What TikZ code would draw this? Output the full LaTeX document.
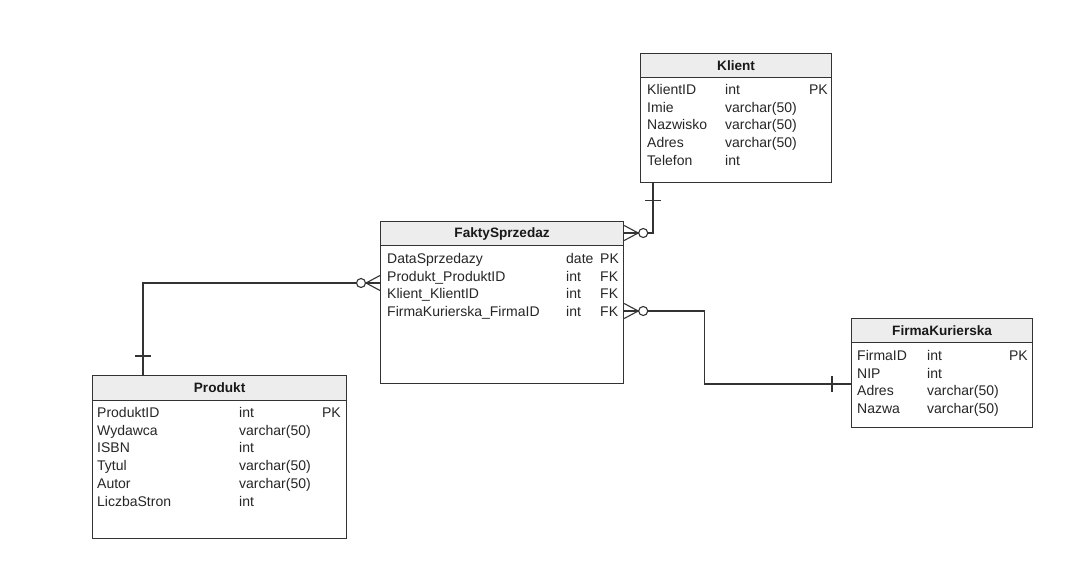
\documentclass[tikz,border=0pt]{standalone}
\usepackage{fontspec}
\setmainfont{Liberation Sans}
\usetikzlibrary{calc}
\begin{document}
\begin{tikzpicture}[x=1pt,y=-1pt,
  line/.style={draw=black!80, line width=1.1pt},
  entity/.style={draw=black!80, line width=1.2pt, anchor=north west, inner sep=0pt},
  header/.style={draw=black!80, line width=1.2pt, fill=black!7, anchor=north west, inner sep=0pt,
    minimum height=24pt, font=\bfseries\fontsize{13.6}{15}\selectfont, text=black!90},
  cell/.style={anchor=base west, inner sep=0pt, font=\fontsize{14}{15}\selectfont, text=black!85},
  keycell/.style={cell, anchor=base east},
  zeromany/.pic={
    \draw[line] (0,-7.5) -- (14,0) -- (0,7.5);
    \draw[line, fill=white] (19,0) circle[radius=4.5pt];
  },
  hbar/.pic={\draw[line] (-8,0) -- (8,0);},
  vbar/.pic={\draw[line] (0,-8) -- (0,8);}
]
\fill[white] (0,0) rectangle (1066,568);
\useasboundingbox (0,0) rectangle (1066,568);

% ---------- Klient ----------
\node[header, minimum width=191pt] (klientH) at (640,53) {Klient};
\node[entity, minimum width=191pt, minimum height=129pt] (klient) at (640,53) {};
\foreach \n/\t [count=\i] in {KlientID/int, Imie/varchar(50), Nazwisko/varchar(50), Adres/varchar(50), Telefon/int}{
  \node[cell] (kn\i) at (647,{94.5+17.7*(\i-1)}) {\n};
  \node[cell] (kt\i) at (725,{94.5+17.7*(\i-1)}) {\t};
}
\node[keycell] (kk1) at (828,94.5) {PK};

% ---------- FaktySprzedaz ----------
\node[header, minimum width=243pt] (faktyH) at (380,221) {FaktySprzedaz};
\node[entity, minimum width=243pt, minimum height=162pt] (fakty) at (380,221) {};
\foreach \n/\t/\k [count=\i] in {DataSprzedazy/date/PK, Produkt\_ProduktID/int/FK, Klient\_KlientID/int/FK, FirmaKurierska\_FirmaID/int/FK}{
  \node[cell] (fn\i) at (387,{263.5+17.7*(\i-1)}) {\n};
  \node[cell] (ft\i) at (566,{263.5+17.7*(\i-1)}) {\t};
  \node[cell] (fk\i) at (600,{263.5+17.7*(\i-1)}) {\k};
}

% ---------- Produkt ----------
\node[header, minimum width=254pt, minimum height=25pt] (produktH) at (92,375) {Produkt};
\node[entity, minimum width=254pt, minimum height=163pt] (produkt) at (92,375) {};
\foreach \n/\t [count=\i] in {ProduktID/int, Wydawca/varchar(50), ISBN/int, Tytul/varchar(50), Autor/varchar(50), LiczbaStron/int}{
  \node[cell] (pn\i) at (97,{417.5+17.7*(\i-1)}) {\n};
  \node[cell] (pt\i) at (239,{417.5+17.7*(\i-1)}) {\t};
}
\node[keycell] (pk1) at (341,417.5) {PK};

% ---------- FirmaKurierska ----------
\node[header, minimum width=181pt] (firmaH) at (851,318) {FirmaKurierska};
\node[entity, minimum width=181pt, minimum height=109pt] (firma) at (851,318) {};
\foreach \n/\t [count=\i] in {FirmaID/int, NIP/int, Adres/varchar(50), Nazwa/varchar(50)}{
  \node[cell] (rn\i) at (857,{360.5+17.7*(\i-1)}) {\n};
  \node[cell] (rt\i) at (927,{360.5+17.7*(\i-1)}) {\t};
}
\node[keycell] (rk1) at (1028,360.5) {PK};

% ---------- Connectors ----------
% Klient -- FaktySprzedaz
\coordinate (kc) at ($(klient.south west)+(13,0)$);
\coordinate (fkc) at ($(fakty.north east)+(0,12)$);
\draw[line] (kc) |- (fkc);
\pic at (fkc) {zeromany};
\pic at ($(kc)+(0,17)$) {hbar};

% Produkt -- FaktySprzedaz
\coordinate (pc) at ($(produkt.north west)+(51,0)$);
\coordinate (fpc) at ($(fakty.north west)+(0,62)$);
\draw[line] (pc) |- (fpc);
\pic[xscale=-1] at (fpc) {zeromany};
\pic at ($(pc)+(0,-19)$) {hbar};

% FirmaKurierska -- FaktySprzedaz
\coordinate (ffc) at ($(fakty.north east)+(0,90)$);
\coordinate (rc) at ($(firma.north west)+(0,66)$);
\coordinate (bend) at ($(ffc)+(80,0)$);
\draw[line] (ffc) -- (bend) |- (rc);
\pic at (ffc) {zeromany};
\pic at ($(rc)+(-19,0)$) {vbar};
\end{tikzpicture}
\end{document}
